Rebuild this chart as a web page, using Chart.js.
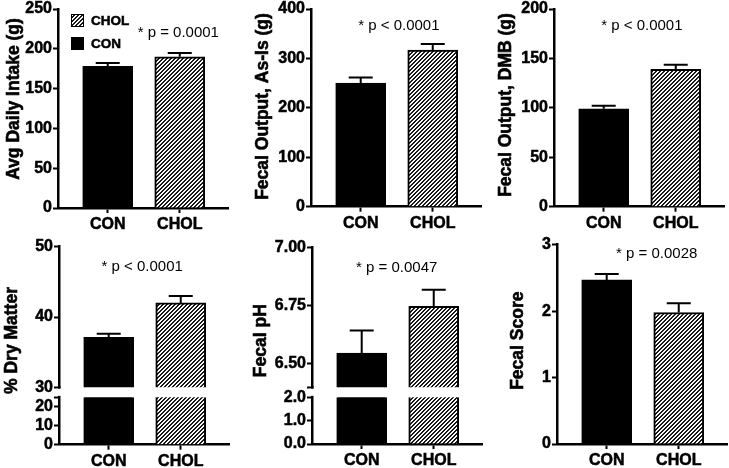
<!DOCTYPE html>
<html>
<head>
<meta charset="utf-8">
<script src="https://cdn.jsdelivr.net/npm/chart.js@4.4.1/dist/chart.umd.min.js"></script>
<style>
  html, body { margin: 0; background: #fff; }
  #page { position: relative; width: 729px; height: 468px; }
  #page canvas { position: absolute; }
</style>
</head>
<body>
<div id="page">
  <canvas id="intake" width="243" height="234" style="left:0;top:0"></canvas>
  <canvas id="asIs" width="243" height="234" style="left:243px;top:0"></canvas>
  <canvas id="dmb" width="243" height="234" style="left:486px;top:0"></canvas>
  <canvas id="dryMatter" width="243" height="234" style="left:0;top:234px"></canvas>
  <canvas id="ph" width="243" height="234" style="left:243px;top:234px"></canvas>
  <canvas id="score" width="243" height="234" style="left:486px;top:234px"></canvas>
</div>
<script>
const groups = ['CON', 'CHOL'];

// means and SEM
const intakeMean = [178, 190];
const intakeSem = [4.2, 4.6];
const intakeTicks = [0, 50, 100, 150, 200, 250];

const asIsMean = [250, 317];
const asIsSem = [11.5, 12];
const asIsTicks = [0, 100, 200, 300, 400];

const dmbMean = [99, 139];
const dmbSem = [3, 4.7];
const dmbTicks = [0, 50, 100, 150, 200];

const dryMean = [37.1, 42.0];
const drySem = [0.5, 1.0];
const dryTicksTop = [30, 40, 50];
const dryTicksLow = [0, 10, 20, 25];
const dryLabelsLow = ['0', '10', '20', ''];

const phMean = [6.547, 6.747];
const phSem = [0.096, 0.071];
const phTicksTop = [6.4, 6.5, 6.75, 7.0];
const phLabelsTop = ['', '6.50', '6.75', '7.00'];
const phTicksLow = [0, 1, 2];
const phLabelsLow = ['0.0', '1.0', '2.0'];

const scoreMean = [2.47, 1.98];
const scoreSem = [0.09, 0.14];
const scoreTicks = [0, 1, 2, 3];

const pNotes = ['* p = 0.0001', '* p < 0.0001', '* p < 0.0001', '* p < 0.0001', '* p = 0.0047', '* p = 0.0028'];

const FONT = '"Liberation Sans", Arial, Helvetica, sans-serif';
Chart.defaults.font.family = FONT;
Chart.defaults.color = '#000';
Chart.defaults.animation = false;
Chart.defaults.responsive = false;
Chart.defaults.plugins.legend.display = false;
Chart.defaults.plugins.tooltip.enabled = false;

function makeHatch() {
  const c = document.createElement('canvas');
  c.width = 4;
  c.height = 4;
  const g = c.getContext('2d');
  const img = g.createImageData(4, 4);
  for (let i = 0; i < 16; i++) {
    const px = i % 4, py = Math.floor(i / 4);
    const v = (px + py) % 4 < 2 ? 25 : 250;
    img.data.set([v, v, v, 255], i * 4);
  }
  g.putImageData(img, 0, 0);
  return g.createPattern(c, 'repeat');
}
const HATCH = makeHatch();

// error bar (upper half only), drawn from the dataset's sem
const errorBars = {
  id: 'errorBars',
  afterDatasetsDraw(chart) {
    const ctx = chart.ctx;
    chart.data.datasets.forEach((ds, di) => {
      if (!ds.sem) return;
      const meta = chart.getDatasetMeta(di);
      const scale = chart.scales[meta.yAxisID];
      meta.data.forEach((bar, i) => {
        const top = scale.getPixelForValue(ds.data[i].y + ds.sem[i]);
        ctx.save();
        ctx.strokeStyle = '#000';
        ctx.lineWidth = 2;
        ctx.beginPath();
        ctx.moveTo(bar.x, bar.y);
        ctx.lineTo(bar.x, top);
        ctx.moveTo(bar.x - 12, top);
        ctx.lineTo(bar.x + 12, top);
        ctx.stroke();
        ctx.restore();
      });
    });
  }
};

// white gap in the axis line between the two parts of a broken axis
const axisGap = {
  id: 'axisGap',
  afterDraw(chart) {
    const lo = chart.scales.yLow;
    if (!lo) return;
    const brk = lo.ticks[lo.ticks.length - 1].value;
    const y1 = lo.top + 1.5, y2 = lo.getPixelForValue(brk) - 1.5;
    const ctx = chart.ctx;
    ctx.save();
    ctx.fillStyle = '#fff';
    ctx.fillRect(lo.right - 3, y1, 6, y2 - y1);
    ctx.restore();
  }
};

const notes = {
  id: 'notes',
  afterDraw(chart, args, o) {
    if (!o.text) return;
    const ctx = chart.ctx;
    ctx.save();
    ctx.font = '15px ' + FONT;
    ctx.fillStyle = '#000';
    ctx.textAlign = 'center';
    ctx.textBaseline = 'middle';
    ctx.fillText(o.text, chart.scales.x.getPixelForValue(o.x), chart.scales[o.axis].getPixelForValue(o.y));
    ctx.restore();
  }
};

const boxLegend = {
  id: 'boxLegend',
  afterDraw(chart, args, o) {
    if (!o.show) return;
    const {ctx, chartArea} = chart;
    const items = chart.data.datasets.slice(0, 2).reverse();
    items.forEach((ds, i) => {
      const x = chartArea.left + o.x, y = chartArea.top + o.y + i * o.gap;
      ctx.save();
      ctx.fillStyle = ds.backgroundColor;
      ctx.fillRect(x, y, o.size, o.size);
      ctx.strokeStyle = '#000';
      ctx.lineWidth = 1;
      ctx.strokeRect(x + 0.5, y + 0.5, o.size - 1, o.size - 1);
      ctx.fillStyle = '#000';
      ctx.strokeStyle = '#000';
      ctx.lineWidth = 0.5;
      ctx.font = 'bold 13.5px ' + FONT;
      ctx.textBaseline = 'middle';
      ctx.fillText(ds.label, x + o.size + 7, y + o.size / 2 + 1);
      ctx.strokeText(ds.label, x + o.size + 7, y + o.size / 2 + 1);
      ctx.restore();
    });
  }
};

// rotated y title, placed where the original puts it
const sideTitle = {
  id: 'sideTitle',
  afterDraw(chart, args, o) {
    if (!o.text) return;
    const ctx = chart.ctx;
    ctx.save();
    ctx.translate(o.x, o.y);
    ctx.rotate(-Math.PI / 2);
    ctx.font = 'bold 17.5px ' + FONT;
    ctx.fillStyle = '#000';
    ctx.strokeStyle = '#000';
    ctx.lineWidth = 0.6;
    ctx.textAlign = 'center';
    ctx.textBaseline = 'middle';
    ctx.fillText(o.text, 0, 0);
    ctx.strokeText(o.text, 0, 0);
    ctx.restore();
  }
};

const tickFont = { size: 16, weight: 'bold', lineHeight: 1 };
const axisGrid = { drawOnChartArea: false, drawTicks: true, tickLength: 5, tickWidth: 2, tickColor: '#000', color: '#000', offset: false };
const axisBorder = { color: '#000', width: 2.5 };

function xScale(height) {
  return {
    type: 'linear', min: -0.69, max: 1.67, offset: false,
    afterBuildTicks: s => { s.ticks = groups.map((g, i) => ({ value: i })); },
    afterFit: s => { s.height = height; },
    ticks: { callback: v => groups[v], font: tickFont, color: '#000', padding: 4, maxRotation: 0, autoSkip: false,
      textStrokeColor: '#000', textStrokeWidth: 0.5 },
    grid: axisGrid,
    border: axisBorder
  };
}

function yScale(tickVals, labels, width) {
  return {
    type: 'linear', min: tickVals[0], max: tickVals[tickVals.length - 1], offset: false,
    afterBuildTicks: s => { s.ticks = tickVals.map(v => ({ value: v })); },
    afterFit: s => { s.width = width; },
    ticks: { callback: (v, i) => labels ? labels[i] : String(v), font: tickFont, color: '#000', padding: 1, autoSkip: false,
      textStrokeColor: '#000', textStrokeWidth: 0.5 },
    grid: axisGrid,
    border: axisBorder
  };
}

function bars(mean, sem, axis) {
  return [
    { label: groups[0], data: [{ x: 0, y: mean[0] }], sem: [sem[0]], yAxisID: axis,
      backgroundColor: '#000', borderColor: '#000', borderWidth: 2 },
    { label: groups[1], data: [{ x: 1, y: mean[1] }], sem: [sem[1]], yAxisID: axis,
      backgroundColor: HATCH, borderColor: '#000', borderWidth: 2 }
  ];
}

// the lower stubs of the bars, cut at the axis break
function stubs(mean, brk) {
  return [
    { label: groups[0], data: [{ x: 0, y: Math.min(mean[0], brk) }], yAxisID: 'yLow',
      backgroundColor: '#000', borderColor: '#000', borderWidth: { left: 2, right: 2, top: 0, bottom: 0 } },
    { label: groups[1], data: [{ x: 1, y: Math.min(mean[1], brk) }], yAxisID: 'yLow',
      backgroundColor: HATCH, borderColor: '#000', borderWidth: { left: 2, right: 2, top: 0, bottom: 0 } }
  ];
}

function panel(id, cfg) {
  const canvas = document.getElementById(id);
  const W = canvas.width, H = canvas.height;
  const broken = !!cfg.low;
  const upId = broken ? 'yUp' : 'y';
  const datasets = bars(cfg.mean, cfg.sem, upId);
  const scales = { x: xScale(H - cfg.bottom) };
  if (broken) {
    const brk = cfg.low.ticks[cfg.low.ticks.length - 1];
    datasets.push(...stubs(cfg.mean, brk));
    scales.yLow = Object.assign(yScale(cfg.low.ticks, cfg.low.labels, cfg.axisX),
      { max: cfg.low.max, stack: 'brk', stackWeight: cfg.low.weight });
    scales.yUp = Object.assign(yScale(cfg.ticks, cfg.labels, cfg.axisX),
      { stack: 'brk', stackWeight: cfg.upWeight });
  } else {
    scales.y = yScale(cfg.ticks, cfg.labels, cfg.axisX);
  }
  return new Chart(canvas, {
    type: 'bar',
    data: { datasets },
    options: {
      devicePixelRatio: 1,
      layout: { padding: { left: 0, top: cfg.top, right: W - cfg.right, bottom: 0 } },
      datasets: { bar: { barThickness: 50, grouped: false, borderSkipped: 'start' } },
      scales,
      plugins: {
        notes: { text: cfg.note.text, x: cfg.note.x, y: cfg.note.y, axis: upId },
        boxLegend: { show: !!cfg.legend, x: 13, y: 5, gap: 23, size: 13 },
        sideTitle: { text: cfg.title, x: cfg.titleX, y: cfg.titleY }
      }
    },
    plugins: [errorBars, axisGap, notes, boxLegend, sideTitle]
  });
}

panel('intake', {
  mean: intakeMean, sem: intakeSem, ticks: intakeTicks, title: 'Avg Daily Intake (g)',
  titleX: 14, titleY: 99, axisX: 58, top: 8, bottom: 208, right: 228,
  note: { text: pNotes[0], x: 0.98, y: 220 }, legend: true
});
panel('asIs', {
  mean: asIsMean, sem: asIsSem, ticks: asIsTicks, title: 'Fecal Output, As-Is (g)',
  titleX: 20, titleY: 106.5, axisX: 68, top: 8, bottom: 206.7, right: 238,
  note: { text: pNotes[1], x: 0.53, y: 366 }
});
panel('dmb', {
  mean: dmbMean, sem: dmbSem, ticks: dmbTicks, title: 'Fecal Output, DMB (g)',
  titleX: 20, titleY: 105, axisX: 68, top: 8, bottom: 206.7, right: 238,
  note: { text: pNotes[2], x: 0.53, y: 183 }
});
panel('dryMatter', {
  mean: dryMean, sem: drySem, ticks: dryTicksTop, title: '% Dry Matter',
  titleX: 12, titleY: 106.5, axisX: 59, top: 12.7, bottom: 210.7, right: 229, upWeight: 140.6,
  low: { ticks: dryTicksLow, labels: dryLabelsLow, max: 30.3, weight: 57.4 },
  note: { text: pNotes[3], x: 0.465, y: 47.07 }
});
panel('ph', {
  mean: phMean, sem: phSem, ticks: phTicksTop, labels: phLabelsTop, title: 'Fecal pH',
  titleX: 18.3, titleY: 106.7, axisX: 69, top: 13.3, bottom: 210, right: 239, upWeight: 140,
  low: { ticks: phTicksLow, labels: phLabelsLow, max: 2.43, weight: 56.7 },
  note: { text: pNotes[4], x: 0.486, y: 6.914 }
});
panel('score', {
  mean: scoreMean, sem: scoreSem, ticks: scoreTicks, title: 'Fecal Score',
  titleX: 31.7, titleY: 106.7, axisX: 71, top: 10.7, bottom: 210, right: 241,
  note: { text: pNotes[5], x: 0.694, y: 2.86 }
});
</script>
</body>
</html>
